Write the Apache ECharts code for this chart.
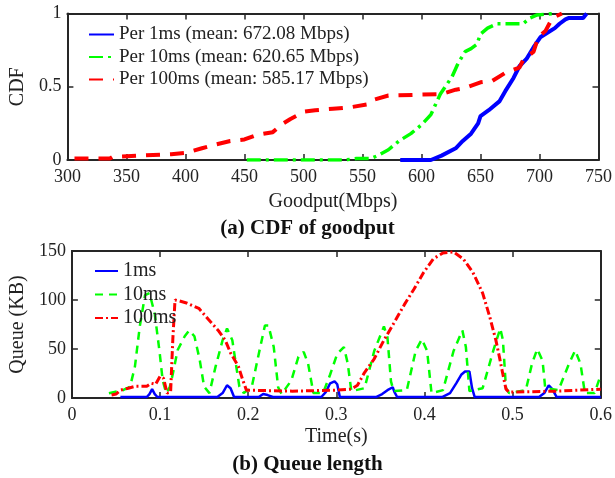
<!DOCTYPE html>
<html><head><meta charset="utf-8">
<script src="https://cdn.jsdelivr.net/npm/echarts@6/dist/echarts.min.js"></script>
<style>html,body{margin:0;padding:0;background:#fff}#c{width:615px;height:478px}</style>
</head><body><div id="c"></div>
<script>
// ---- (a) CDF of goodput ----
const cdf1msX = [582, 608, 617, 629, 635, 642, 648, 650, 657, 666, 671, 678, 683, 689, 695, 701, 707, 713, 717, 722, 725, 737, 740];
const cdf1msY = [0, 0, 0.03, 0.08, 0.13, 0.18, 0.25, 0.30, 0.34, 0.40, 0.47, 0.56, 0.64, 0.69, 0.77, 0.84, 0.87, 0.90, 0.93, 0.96, 0.97, 0.97, 1.0];
const cdf10msX = [452, 535, 545, 557, 563, 572, 581, 591, 600, 608, 612, 616, 621, 626, 631, 637, 642, 647, 650, 656, 664, 686, 692, 698, 712];
const cdf10msY = [0, 0, 0.01, 0.01, 0.03, 0.07, 0.13, 0.18, 0.24, 0.31, 0.38, 0.45, 0.51, 0.57, 0.66, 0.74, 0.76, 0.79, 0.86, 0.9, 0.93, 0.93, 0.97, 0.99, 1.0];
const cdf100msX = [306, 336, 338, 360, 388, 401, 414, 423, 438, 450, 460, 474, 483, 489, 501, 510, 525, 540, 554, 559, 572, 617, 629, 636, 650, 660, 672, 683, 686, 695, 699, 705, 711, 719];
const cdf100msY = [0.01, 0.01, 0.02, 0.03, 0.04, 0.05, 0.08, 0.1, 0.13, 0.14, 0.17, 0.19, 0.25, 0.28, 0.33, 0.34, 0.35, 0.36, 0.38, 0.41, 0.44, 0.45, 0.48, 0.49, 0.53, 0.54, 0.6, 0.63, 0.68, 0.74, 0.84, 0.88, 0.97, 1.0];
const cdfNames = ['Per 1ms (mean: 672.08 Mbps)', 'Per 10ms (mean: 620.65 Mbps)', 'Per 100ms (mean: 585.17 Mbps)'];

// ---- (b) Queue length ----
const q1msT = [0.055, 0.085, 0.088, 0.091, 0.094, 0.097, 0.165, 0.171, 0.176, 0.18, 0.184, 0.212, 0.217, 0.222, 0.228, 0.283, 0.288, 0.293, 0.298, 0.301, 0.304, 0.345, 0.352, 0.358, 0.364, 0.366, 0.369, 0.42, 0.429, 0.436, 0.442, 0.446, 0.451, 0.454, 0.457, 0.53, 0.536, 0.541, 0.545, 0.55, 0.6];
const q1msV = [1, 1, 4, 9, 4, 1, 1, 5, 13, 10, 1, 1, 4, 3, 1, 1, 6, 15, 17, 14, 1, 1, 4, 8, 11, 6, 1, 1, 5, 15, 24, 27, 27, 10, 1, 1, 5, 13, 9, 1, 1];
const q10msT = [0.042, 0.058, 0.066, 0.0715, 0.077, 0.083, 0.088, 0.094, 0.0996, 0.103, 0.107, 0.111, 0.1146, 0.12, 0.128, 0.133, 0.139, 0.145, 0.15, 0.156, 0.163, 0.171, 0.176, 0.182, 0.186, 0.19, 0.195, 0.204, 0.212, 0.219, 0.223, 0.229, 0.234, 0.238, 0.249, 0.257, 0.263, 0.268, 0.274, 0.285, 0.293, 0.301, 0.3086, 0.313, 0.317, 0.332, 0.343, 0.354, 0.358, 0.362, 0.365, 0.38, 0.39, 0.397, 0.403, 0.408, 0.421, 0.433, 0.443, 0.447, 0.451, 0.466, 0.478, 0.486, 0.489, 0.4925, 0.496, 0.515, 0.522, 0.528, 0.534, 0.537, 0.552, 0.564, 0.571, 0.577, 0.582, 0.593, 0.599];
const q10msV = [4.8, 8, 11.6, 32, 73, 105, 107, 86, 46, 18, 5, 11, 25, 49, 63, 69, 63, 39, 11.6, 5, 32, 59, 71, 59, 35, 11.6, 5, 11, 45, 74, 74, 52, 11, 4, 18, 42, 47, 35, 5, 5, 24, 45, 52, 35, 7, 10, 48, 73, 62, 17, 7, 8, 48, 60, 48, 5, 8, 48, 69, 52, 7, 10, 48, 71, 59, 10, 5, 8, 35, 50, 38, 10, 8, 35, 48.5, 35, 5, 5, 21];
const q100msT = [0.045, 0.05, 0.055, 0.064, 0.072, 0.079, 0.085, 0.09, 0.095, 0.1, 0.104, 0.108, 0.112, 0.1145, 0.117, 0.122, 0.13, 0.144, 0.155, 0.166, 0.174, 0.18, 0.189, 0.194, 0.198, 0.2, 0.25, 0.3, 0.317, 0.324, 0.332, 0.343, 0.354, 0.365, 0.377, 0.388, 0.399, 0.41, 0.421, 0.433, 0.444, 0.455, 0.466, 0.474, 0.481, 0.485, 0.489, 0.4925, 0.496, 0.55, 0.6];
const q100msV = [3, 4, 8, 10, 12, 12, 12, 15, 14, 22, 20, 5, 6, 60, 100, 99, 97, 91.5, 80, 69, 59, 46, 32, 18, 8, 6, 7, 8, 9, 13, 26, 40, 59, 76, 95, 111, 128, 142, 148, 149, 142, 128, 107, 83, 59, 42, 24, 9, 6, 7, 9];
const queueNames = ['1ms', '10ms', '100ms'];

const captionA = '(a) CDF of goodput';
const captionB = '(b) Queue length';

const pair = (xs, ys) => xs.map((x, i) => [x, ys[i]]);
const SERIF = 'Liberation Serif';
const AX = '#262626';
const TXT = '#222';
const BLUE = '#0000ff', GREEN = '#00ff00', RED = '#ff0000';

function xAx(grid, min, max, interval, pos, name, gap) {
  return {
    gridIndex: grid, type: 'value', min, max, interval, position: pos,
    axisLine: { show: true, onZero: false, lineStyle: { color: AX, width: 2 } },
    axisTick: { show: true, inside: true, length: 6, lineStyle: { color: AX, width: 1.5 } },
    axisLabel: { show: pos === 'bottom', fontFamily: SERIF, fontSize: 18, color: TXT, margin: 8 },
    splitLine: { show: false },
    name: pos === 'bottom' ? name : '', nameLocation: 'middle', nameGap: gap,
    nameTextStyle: { fontFamily: SERIF, fontSize: 20, color: TXT }
  };
}
function yAx(grid, min, max, interval, pos, name, gap) {
  return {
    gridIndex: grid, type: 'value', min, max, interval, position: pos,
    axisLine: { show: true, onZero: false, lineStyle: { color: AX, width: 2 } },
    axisTick: { show: true, inside: true, length: 6, lineStyle: { color: AX, width: 1.5 } },
    axisLabel: { show: pos === 'left', fontFamily: SERIF, fontSize: 18, color: TXT, margin: 6 },
    splitLine: { show: false },
    name: pos === 'left' ? name : '', nameLocation: 'middle', nameGap: gap, nameRotate: 90,
    nameTextStyle: { fontFamily: SERIF, fontSize: 20, color: TXT }
  };
}
function line(name, data, xi, yi, color, width, type) {
  return {
    name, type: 'line', data, xAxisIndex: xi, yAxisIndex: yi, symbol: 'none', silent: true,
    lineStyle: { color, width, type }, itemStyle: { color }, animation: false, z: 3
  };
}

const chart = echarts.init(document.getElementById('c'), null, { renderer: 'canvas' });
chart.setOption({
  animation: false,
  backgroundColor: '#fff',
  grid: [
    { left: 63, right: 15, top: 13.5, height: 146.5 },
    { left: 68, right: 13, top: 251, height: 147 }
  ],
  xAxis: [
    xAx(0, 300, 750, 50, 'bottom', 'Goodput(Mbps)', 32),
    xAx(0, 300, 750, 50, 'top', '', 0),
    xAx(1, 0, 0.6, 0.1, 'bottom', 'Time(s)', 29),
    xAx(1, 0, 0.6, 0.1, 'top', '', 0)
  ],
  yAxis: [
    yAx(0, 0, 1, 0.5, 'left', 'CDF', 36),
    yAx(0, 0, 1, 0.5, 'right', '', 0),
    yAx(1, 0, 150, 50, 'left', 'Queue (KB)', 37),
    yAx(1, 0, 150, 50, 'right', '', 0)
  ],
  legend: [
    {
      data: cdfNames, orient: 'vertical', left: 88, top: 25, padding: 0, itemWidth: 25, itemHeight: 14, itemGap: 3.5,
      itemStyle: { opacity: 0 },
      textStyle: { fontFamily: SERIF, fontSize: 19, color: TXT }, backgroundColor: 'transparent'
    },
    {
      data: queueNames, orient: 'vertical', left: 94, top: 261, padding: 0, itemWidth: 23, itemHeight: 14, itemGap: 3.5,
      itemStyle: { opacity: 0 },
      textStyle: { fontFamily: SERIF, fontSize: 20, color: TXT }, backgroundColor: 'transparent'
    }
  ],
  series: [
    line(cdfNames[0], pair(cdf1msX, cdf1msY), 0, 0, BLUE, 4, 'solid'),
    line(cdfNames[1], pair(cdf10msX, cdf10msY), 0, 0, GREEN, 3.5, [14, 5, 3, 5]),
    line(cdfNames[2], pair(cdf100msX, cdf100msY), 0, 0, RED, 4, [14, 10]),
    line(queueNames[0], pair(q1msT, q1msV), 2, 2, BLUE, 2.5, 'solid'),
    line(queueNames[1], pair(q10msT, q10msV), 2, 2, GREEN, 2.5, [8, 6]),
    line(queueNames[2], pair(q100msT, q100msV), 2, 2, RED, 3, [8, 3, 2, 3])
  ],
  graphic: [
    { type: 'text', left: 'center', top: 218, style: { text: captionA, font: 'bold 21px "Liberation Serif"', fill: '#111' } },
    { type: 'text', left: 'center', top: 454, style: { text: captionB, font: 'bold 21px "Liberation Serif"', fill: '#111' } }
  ]
});
</script></body></html>
